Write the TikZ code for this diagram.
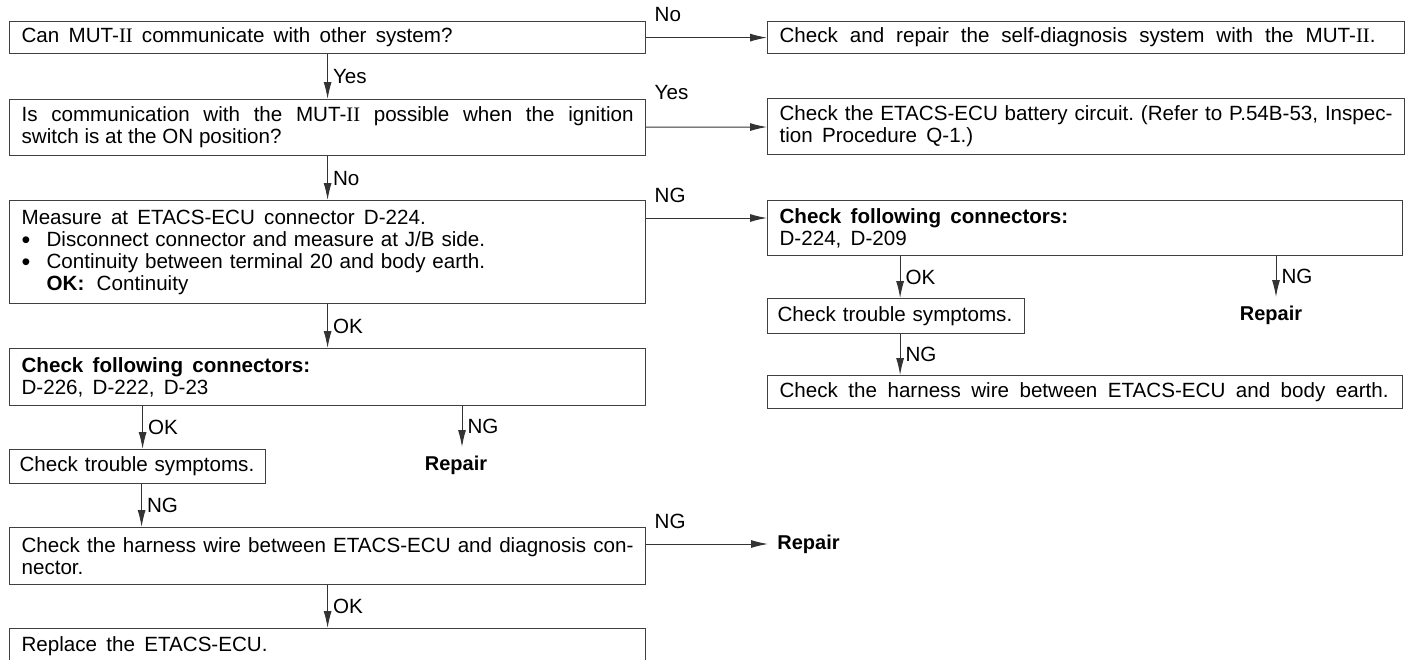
\documentclass[tikz,border=0pt]{standalone}
\usepackage{fontspec}
\setmainfont{Liberation Sans}
\newfontfamily\romfont{Liberation Serif}
\usetikzlibrary{arrows.meta}

\newcommand{\mutii}{MUT-{\romfont II}}
\newcommand{\itm}{\makebox[12.5pt][l]{\raisebox{-0.25ex}{\fontsize{12.5}{11}\selectfont\textbullet}}}
\newcommand{\wsp}{\hspace{0.45em}}
\newcommand{\wwsp}{\hspace{0.58em}}

\tikzset{
  box/.style={draw=black!75, line width=0.6pt, anchor=north west, inner xsep=6pt, inner ysep=0pt, text width=#1, align=left},
  jbox/.style={box=#1, align=justify},
  arr/.style={-{Latex[length=8.5pt,width=4pt]}, line width=0.5pt, draw=black!80},
  lbl/.style={inner sep=2.5pt},
  side/.style={anchor=base west, inner sep=0pt, xshift=4pt},
  repair/.style={font=\bfseries, inner xsep=4.5pt, inner ysep=4.5pt}
}

\begin{document}
\frenchspacing
\begin{tikzpicture}[x=0.5pt,y=-0.5pt,font=\fontsize{10.3}{11}\selectfont]
\useasboundingbox (0,0) rectangle (1408,659);
\clip (0,0) rectangle (1408,659);

%left column
\node[box=306pt, minimum height=16pt] (comm) at (9,21) {Can\wsp \mutii\wsp communicate\wsp with\wsp other\wsp system?};
\node[jbox=306pt, minimum height=28pt] (ignon) at (9,99) {Is communication with the \mutii{} possible when the ignition\linebreak switch is at the ON position?};
\node[box=306pt, minimum height=51.5pt] (meas) at (9,200) {Measure\wsp at\wsp ETACS-ECU\wsp connector\wsp D-224.\\
\itm Disconnect connector and measure at J/B side.\\
\itm Continuity between terminal 20 and body earth.\\
\hspace*{12.5pt}\textbf{OK:}\hspace{0.6em}Continuity};
\node[box=306pt, minimum height=28.5pt] (conna) at (9,348) {\textbf{Check\wsp following\wsp connectors:}\\ D-226,\wsp D-222,\wsp D-23};
\node[box=118pt, inner xsep=5pt, minimum height=17pt] (trba) at (9,449) {Check trouble symptoms.};
\node[repair, anchor=north] (repa) at (456,447) {Repair};
\node[jbox=306pt, minimum height=28.5pt] (diag) at (9,527) {Check the harness wire between ETACS-ECU and diagnosis con-\linebreak nector.};
\node[repair, anchor=west] (repc) at (768,544) {Repair};
\node[box=306pt, minimum height=18pt] (repl) at (9,628) {Replace\wsp the\wsp ETACS-ECU.};

%right column
\node[box=306.5pt, minimum height=16pt] (selfd) at (767,21) {Check\wwsp and\wwsp repair\wwsp the\wwsp self-diagnosis\wwsp system\wwsp with\wwsp the\wwsp \mutii.};
\node[jbox=306.5pt, minimum height=28pt] (batt) at (767,98) {Check the ETACS-ECU battery circuit. (Refer to P.54B-53, Inspec-\linebreak tion\wsp Procedure\wsp Q-1.)};
\node[box=305.5pt, minimum height=27.5pt] (connb) at (767,200) {\textbf{Check\wsp following\wsp connectors:}\\ D-224,\wsp D-209};
\node[box=118.5pt, inner xsep=5pt, minimum height=17.5pt] (trbb) at (767,298) {Check trouble symptoms.};
\node[repair, anchor=north] (repb) at (1271,297) {Repair};
\node[box=305.5pt, minimum height=16.5pt] (earth) at (767,375) {\hbox to 304.5pt{\spaceskip=0pt Check the harness wire between ETACS-ECU and body earth.}};

%horizontal branches
\draw[arr] (comm) -- (selfd) node[pos=0, side, yshift=8pt] {No};
\draw[arr] (ignon) -- (batt) node[pos=0, side, yshift=14pt] {Yes};
\draw[arr] ([yshift=-9pt]meas.north east) -- ([yshift=-9pt]meas.north east -| connb.west) node[pos=0, side, yshift=8pt] {NG};
\draw[arr] ([yshift=-8.5pt]diag.north east) -- (repc.west) node[pos=0, side, yshift=8pt] {NG};

%down the left
\draw[arr] (comm) -- (ignon) node[midway, right, lbl] {Yes};
\draw[arr] (ignon) -- (meas) node[midway, right, lbl] {No};
\draw[arr] (meas) -- (conna) node[midway, right, lbl] {OK};
\draw[arr] ([xshift=2.5pt]conna.south -| trba.north) -- ([xshift=2.5pt]trba.north) node[midway, right, lbl] {OK};
\draw[arr] ([xshift=3pt]conna.south -| repa.north) -- ([xshift=3pt]repa.north) node[midway, right, lbl] {NG};
\draw[arr] ([xshift=2pt]trba.south) -- ([xshift=2pt]trba.south |- diag.north) node[midway, right, lbl] {NG};
\draw[arr] (diag) -- (repl) node[midway, right, lbl] {OK};

%down the right
\draw[arr] ([xshift=2pt]connb.south -| trbb.north) -- ([xshift=2pt]trbb.north) node[midway, right, lbl] {OK};
\draw[arr] ([xshift=2.5pt]connb.south -| repb.north) -- ([xshift=2.5pt]repb.north) node[midway, right, lbl] {NG};
\draw[arr] ([xshift=2pt]trbb.south) -- ([xshift=2pt]trbb.south |- earth.north) node[midway, right, lbl] {NG};
\end{tikzpicture}
\end{document}
